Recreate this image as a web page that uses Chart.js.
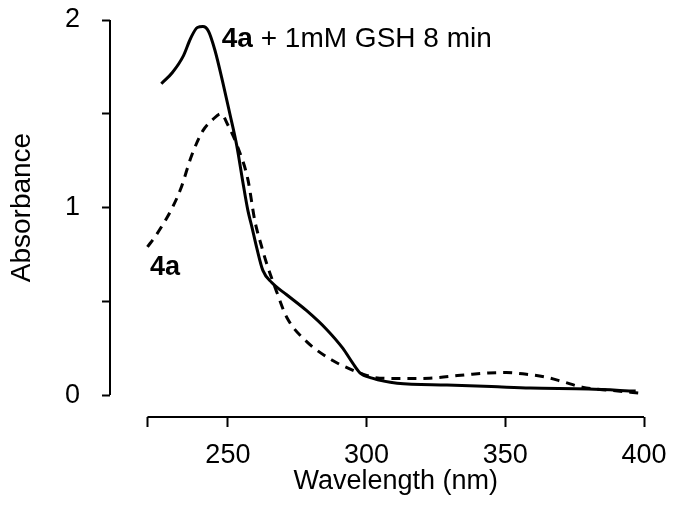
<!DOCTYPE html>
<html>
<head>
<meta charset="utf-8">
<script src="https://cdn.jsdelivr.net/npm/chart.js@4.4.1/dist/chart.umd.min.js"></script>
<style>
  html, body { margin: 0; padding: 0; background: #fff; }
  #wrap { width: 675px; height: 506px; }
</style>
</head>
<body>
<div id="wrap"><canvas id="chart" width="675" height="506"></canvas></div>
<script>
// =========================================
// 1. DATA
// =========================================

// 4a + 1mM GSH 8 min (garis penuh)
const gshWavelength = [226, 230, 234, 236.5, 239, 241, 243, 245.3, 248.2, 250.7, 253.2, 255.4, 257.2, 258.6, 260.4, 262.6, 265.8, 271.2, 278.4, 285.6, 291.4, 295, 297.5, 302, 311, 329, 345, 359, 380, 397];
const gshAbsorbance = [1.66, 1.72, 1.81, 1.90, 1.96, 1.965, 1.94, 1.84, 1.665, 1.50, 1.33, 1.135, 0.985, 0.90, 0.785, 0.665, 0.60, 0.535, 0.45, 0.35, 0.25, 0.17, 0.12, 0.09, 0.063, 0.053, 0.045, 0.037, 0.032, 0.021];

// 4a saja (garis putus-putus)
const baseWavelength = [221, 224, 227, 230, 233, 237, 241, 244.6, 247.5, 250, 253.6, 257.2, 259.7, 262, 264, 267.6, 271.2, 278.4, 287.8, 293.9, 300, 304.7, 313, 322.7, 330, 337, 344, 350.4, 357, 364.8, 371, 377.7, 388, 399];
const baseAbsorbance = [0.79, 0.85, 0.92, 1.0, 1.1, 1.28, 1.41, 1.47, 1.50, 1.44, 1.32, 1.15, 0.93, 0.8, 0.70, 0.55, 0.415, 0.285, 0.184, 0.14, 0.105, 0.09, 0.088, 0.09, 0.10, 0.11, 0.118, 0.12, 0.112, 0.095, 0.07, 0.042, 0.025, 0.01];

// Tick sumbu
const xTicks = [221, 250, 300, 350, 400];
const xTickLabels = ['', '250', '300', '350', '400'];
const yTicks = [0, 0.5, 1, 1.5, 2];
const yTickLabels = ['0', '', '1', '', '2'];

const FONT = "'Liberation Sans', Arial, Helvetica, sans-serif";

// =========================================
// 2. PLUGIN: garis sumbu, judul, label kurva
// =========================================

const axisDecor = {
    id: 'axisDecor',
    afterDraw(chart) {
        const { ctx, chartArea, scales: { x, y } } = chart;
        ctx.save();

        // Garis sumbu (terpisah seperti gambar asli)
        ctx.strokeStyle = '#000';
        ctx.lineWidth = 2;
        ctx.beginPath();
        ctx.moveTo(chartArea.left, y.getPixelForValue(yTicks[0]));
        ctx.lineTo(chartArea.left, y.getPixelForValue(yTicks[yTicks.length - 1]));
        ctx.moveTo(x.getPixelForValue(xTicks[0]), chartArea.bottom);
        ctx.lineTo(x.getPixelForValue(xTicks[xTicks.length - 1]), chartArea.bottom);
        ctx.stroke();

        ctx.fillStyle = '#000';

        // Judul sumbu X
        const xMid = (x.getPixelForValue(xTicks[0]) + x.getPixelForValue(xTicks[xTicks.length - 1])) / 2;
        ctx.font = '27px ' + FONT;
        ctx.textAlign = 'center';
        ctx.textBaseline = 'middle';
        ctx.fillText('Wavelength (nm)', xMid, chartArea.bottom + 65);

        // Judul sumbu Y (diputar)
        const yMid = (y.getPixelForValue(yTicks[0]) + y.getPixelForValue(yTicks[yTicks.length - 1])) / 2;
        ctx.save();
        ctx.translate(22, yMid);
        ctx.rotate(-Math.PI / 2);
        ctx.font = '28px ' + FONT;
        ctx.fillText('Absorbance', 0, 0);
        ctx.restore();

        // Label kurva
        ctx.textAlign = 'left';
        ctx.textBaseline = 'alphabetic';
        let lx = x.getPixelForValue(247.8);
        const ly = y.getPixelForValue(1.856);
        ctx.font = 'bold 28px ' + FONT;
        ctx.fillText('4a', lx, ly);
        lx += ctx.measureText('4a').width;
        ctx.font = '28px ' + FONT;
        ctx.fillText(' + 1mM GSH 8 min', lx, ly);

        ctx.font = 'bold 27px ' + FONT;
        ctx.fillText('4a', x.getPixelForValue(221.9), y.getPixelForValue(0.64));

        ctx.restore();
    }
};

// =========================================
// 3. CHART
// =========================================

const ctx = document.getElementById('chart').getContext('2d');

new Chart(ctx, {
    type: 'line',
    data: {
        datasets: [
            {
                label: '4a + 1mM GSH 8 min',
                data: gshWavelength.map((w, i) => ({ x: w, y: gshAbsorbance[i] })),
                borderColor: '#000',
                borderWidth: 3,
                pointRadius: 0,
                cubicInterpolationMode: 'monotone',
                fill: false
            },
            {
                label: '4a',
                data: baseWavelength.map((w, i) => ({ x: w, y: baseAbsorbance[i] })),
                borderColor: '#000',
                borderWidth: 3,
                borderDash: [9, 7],
                pointRadius: 0,
                cubicInterpolationMode: 'monotone',
                fill: false
            }
        ]
    },
    options: {
        responsive: false,
        animation: false,
        layout: { padding: { top: 20, right: 31, left: 0, bottom: 0 } },
        plugins: {
            legend: { display: false },
            tooltip: { enabled: false }
        },
        scales: {
            x: {
                type: 'linear',
                min: 207.5,
                max: 400,
                afterBuildTicks: (s) => { s.ticks = xTicks.map(v => ({ value: v })); },
                afterFit: (s) => { s.height = 89; s.paddingLeft = 0; s.paddingRight = 0; },
                border: { display: false },
                grid: { display: true, drawOnChartArea: false, drawTicks: true, tickLength: 10, tickWidth: 2, tickColor: '#000' },
                ticks: {
                    autoSkip: false,
                    maxRotation: 0,
                    padding: 12,
                    color: '#000',
                    font: { family: FONT, size: 27 },
                    callback: (v) => xTickLabels[xTicks.indexOf(v)] ?? ''
                }
            },
            y: {
                min: -0.117,
                max: 2,
                afterBuildTicks: (s) => { s.ticks = yTicks.map(v => ({ value: v })); },
                afterFit: (s) => { s.width = 110; s.paddingTop = 0; s.paddingBottom = 0; },
                border: { display: false },
                grid: { display: true, drawOnChartArea: false, drawTicks: true, tickLength: 8, tickWidth: 2, tickColor: '#000' },
                ticks: {
                    autoSkip: false,
                    padding: 22,
                    color: '#000',
                    font: { family: FONT, size: 27 },
                    callback: (v) => yTickLabels[yTicks.indexOf(v)] ?? ''
                }
            }
        }
    },
    plugins: [axisDecor]
});
</script>
</body>
</html>
